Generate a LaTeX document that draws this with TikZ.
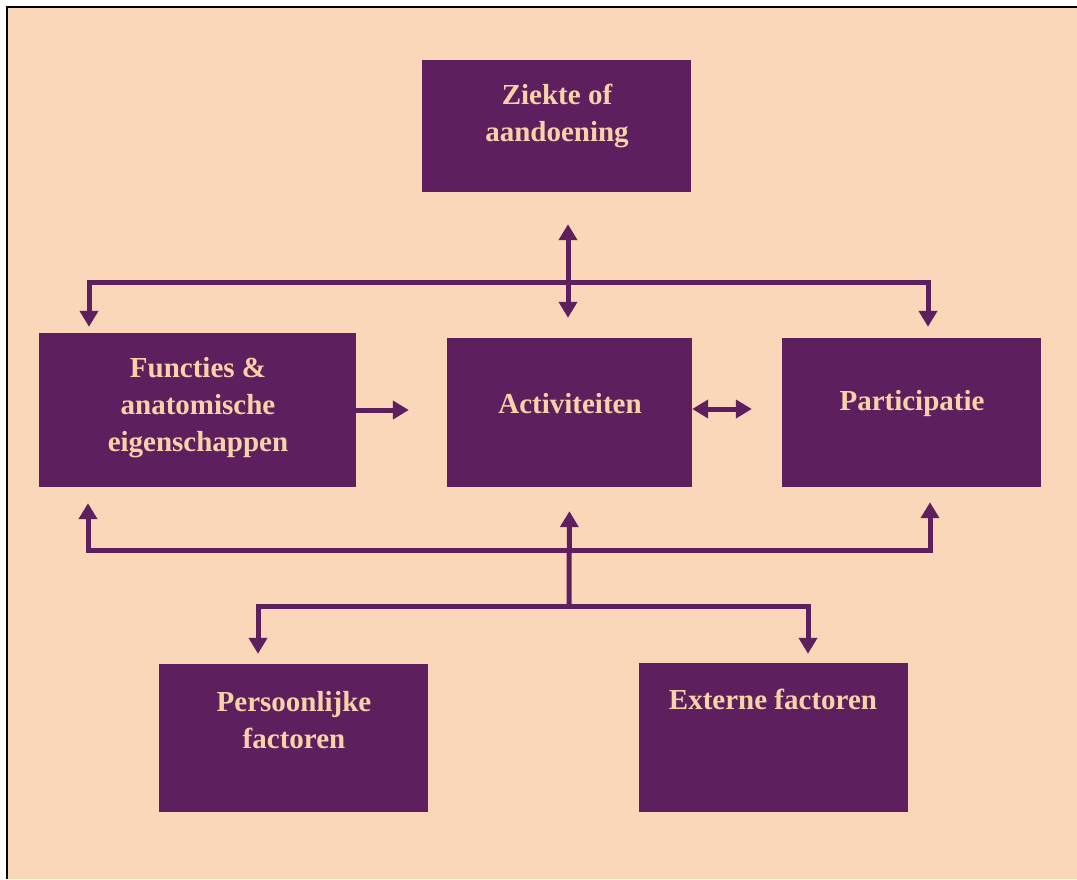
\documentclass[tikz,border=0pt]{standalone}
\usepackage{fontspec}
\setmainfont{Liberation Serif}
\usetikzlibrary{arrows.meta}
\definecolor{peach}{HTML}{FAD7B8}
\definecolor{plum}{HTML}{5E1F5F}
\definecolor{boxtext}{HTML}{F9D3A8}

\begin{document}
\begin{tikzpicture}[x=1pt,y=-1pt,
    box/.style={draw=none,fill=plum,inner sep=0pt},
    boxlabel/.style={text=boxtext,font=\fontsize{29}{37}\selectfont\bfseries,align=center,inner sep=0pt},
    arr/.style={draw=plum,line width=5pt,-{Triangle[length=16pt,width=18pt]}},
    dblarr/.style={draw=plum,line width=5pt,{Triangle[length=16pt,width=18pt]}-{Triangle[length=16pt,width=18pt]}}]
  \useasboundingbox (0,0) rectangle (1077,879);

  % Draw the background with the frame on the left and at the top
  \fill[peach] (8,8) rectangle (1077,879);
  \draw[line width=2.5pt] (7,879) -- (7,7) -- (1077,7);

  % Draw the boxes
  \node[box,minimum width=269pt,minimum height=132pt] (ziekte) at (556.5,126) {};
  \node[box,minimum width=317pt,minimum height=154pt] (functies) at (197.5,410) {};
  \node[box,minimum width=245pt,minimum height=149pt] (activ) at (569.5,412.5) {};
  \node[box,minimum width=259pt,minimum height=149pt] (partic) at (911.5,412.5) {};
  \node[box,minimum width=269pt,minimum height=148pt] (persoon) at (293.5,738) {};
  \node[box,minimum width=269pt,minimum height=149pt] (extern) at (773.5,737.5) {};

  % Add the texts in the boxes
  \node[boxlabel] (ziekteText) at (557,116) {Ziekte of\\aandoening};
  \node[boxlabel] (functiesText) at (198,408) {Functies \&\\anatomische\\eigenschappen};
  \node[boxlabel] (activText) at (570,404) {Activiteiten};
  \node[boxlabel] (particText) at (912,404) {Participatie};
  \node[boxlabel] (persoonText) at (294,720) {Persoonlijke\\factoren};
  \node[boxlabel] (externText) at (773,699) {Externe factoren};

  % Coordinates of the bars between the boxes
  \coordinate (topbar) at (568,282);
  \coordinate (tl) at (89,282);
  \coordinate (tr) at (928,282);
  \coordinate (midbar) at (569,550);
  \coordinate (bl) at (88,550);
  \coordinate (br) at (930,550);
  \coordinate (lowbar) at (569,606);
  \coordinate (ll) at (258,606);
  \coordinate (lr) at (808,606);

  % Draw the double arrow between the top box and the activities
  \draw[dblarr,shorten <=32pt,shorten >=20pt] (ziekte.south -| topbar) -- (activ.north -| topbar);

  % Draw the upper bar with its two arrows
  \draw[arr,shorten >=6pt] (topbar) -| (tl |- functies.north);
  \draw[arr,shorten >=11pt] (topbar) -| (tr |- partic.north);

  % Draw the arrows between the middle boxes
  \draw[arr,shorten >=38pt] (functies.east) -- (functies.east -| activ.west);
  \draw[dblarr,shorten >=30pt] ([yshift=3.5pt]activ.east) -- ([yshift=3.5pt]partic.west);

  % Draw the lower bar with its arrows up
  \draw[arr,shorten >=16pt] (midbar) -| (bl |- functies.south);
  \draw[arr,shorten >=15pt] (midbar) -| (br |- partic.south);
  \draw[arr,shorten >=24pt] (lowbar) -- (activ.south);

  % Draw the bottom bar with its arrows down
  \draw[arr,shorten >=10pt] (lowbar) -| (ll |- persoon.north);
  \draw[arr,shorten >=9pt] (lowbar) -| (lr |- extern.north);
\end{tikzpicture}
\end{document}
